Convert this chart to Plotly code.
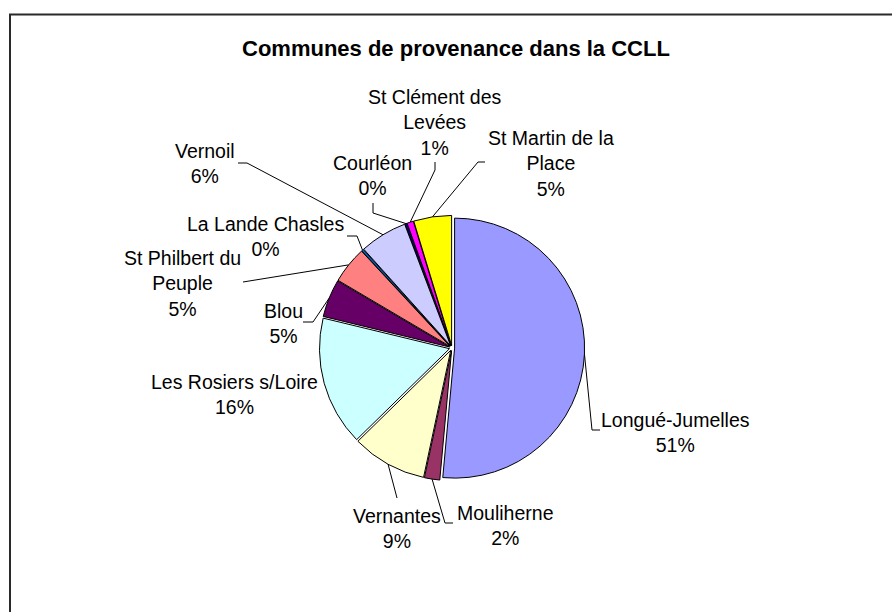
import math
import plotly.graph_objects as go

# ---------------- data ----------------
communes = [
    "Longué-Jumelles", "Mouliherne", "Vernantes", "Les Rosiers s/Loire", "Blou",
    "St Philbert du Peuple", "La Lande Chasles", "Vernoil", "Courléon",
    "St Clément des Levées", "St Martin de la Place",
]
parts = [51.4, 1.9, 9.3, 16.1, 4.7, 4.6, 0.25, 5.9, 0.25, 0.8, 4.7]
label_text = [
    "Longué-Jumelles", "Mouliherne", "Vernantes", "Les Rosiers s/Loire", "Blou",
    "St Philbert du<br>Peuple", "La Lande Chasles", "Vernoil", "Courléon",
    "St Clément des<br>Levées", "St Martin de la<br>Place",
]
title_text = "Communes de provenance dans la CCLL"

# ---------------- style / layout ----------------
slice_colors = ["#9999FF", "#993366", "#FFFFCC", "#CCFFFF", "#660066", "#FF8080",
                "#0066CC", "#CCCCFF", "#000080", "#FF00FF", "#FFFF00"]
W, H = 892, 612
CX, CY, R_OUT = 452, 348, 132.6
PULL = 0.02
FONT = "Liberation Sans, Arial, sans-serif"
label_pos_x = [675, 505, 397, 234, 283, 182, 265, 205, 372, 435, 551]
label_pos_y = [432, 525, 528, 394, 323.5, 283, 236, 163, 175.5, 122, 163]
leader_elbow_x = [592, 445, 397, None, 313, 250, 357, 247, 373, 435, 478]
leader_elbow_y = [430, 523, 498, None, 322, 281, 236, 163, 213, 170, 162]
leader_end_x = [600, 453, 397, None, 303, 243, 347, 238, 373, 435, 485]
leader_end_y = [430, 523, 498, None, 322, 282, 236, 163, 203, 162, 162]

total = sum(parts)
pct_text = [f"{round(p / total * 100)}%" for p in parts]

fig = go.Figure()

fig.add_trace(go.Pie(
    labels=communes, values=parts, sort=False, direction="clockwise", rotation=0,
    marker=dict(colors=slice_colors, line=dict(color="black", width=1)),
    pull=[PULL] * len(parts), textinfo="none", hoverinfo="label+percent",
    domain=dict(x=[(CX - R_OUT) / W, (CX + R_OUT) / W],
                y=[1 - (CY + R_OUT) / H, 1 - (CY - R_OUT) / H]),
    showlegend=False,
))

# leader lines: anchor on the slice edge at mid-angle (from the data)
lx, ly = [], []
cum = 0.0
for i, p in enumerate(parts):
    mid = (cum + p / 2) / total * 2 * math.pi
    cum += p
    if leader_end_x[i] is None:
        continue
    ax = CX + R_OUT * math.sin(mid)
    ay = CY - R_OUT * math.cos(mid)
    lx += [ax, leader_elbow_x[i], leader_end_x[i], None]
    ly += [ay, leader_elbow_y[i], leader_end_y[i], None]

fig.add_trace(go.Scatter(x=lx, y=ly, mode="lines", line=dict(color="black", width=1),
                         hoverinfo="skip", showlegend=False))

annotations = [dict(x=456, y=48, xref="x", yref="y", text=f"<b>{title_text}</b>",
                    showarrow=False, font=dict(family=FONT, size=22, color="black"))]
for i in range(len(parts)):
    annotations.append(dict(
        x=label_pos_x[i], y=label_pos_y[i], xref="x", yref="y",
        text=f"{label_text[i]}<br>{pct_text[i]}", showarrow=False, align="center",
        font=dict(family=FONT, size=19.5, color="black"),
    ))

fig.update_layout(
    width=W, height=H, margin=dict(l=0, r=0, t=0, b=0),
    paper_bgcolor="white", plot_bgcolor="rgba(0,0,0,0)",
    xaxis=dict(range=[0, W], visible=False, fixedrange=True),
    yaxis=dict(range=[H, 0], visible=False, fixedrange=True),
    annotations=annotations,
    shapes=[dict(type="rect", xref="x", yref="y", x0=10, y0=14.5, x1=W + 10, y1=H + 10,
                 line=dict(color="#2a2a2a", width=2))],
    showlegend=False,
)

fig.write_html("out.html", config={"displayModeBar": False},
               post_script="document.body.style.margin='0';")
